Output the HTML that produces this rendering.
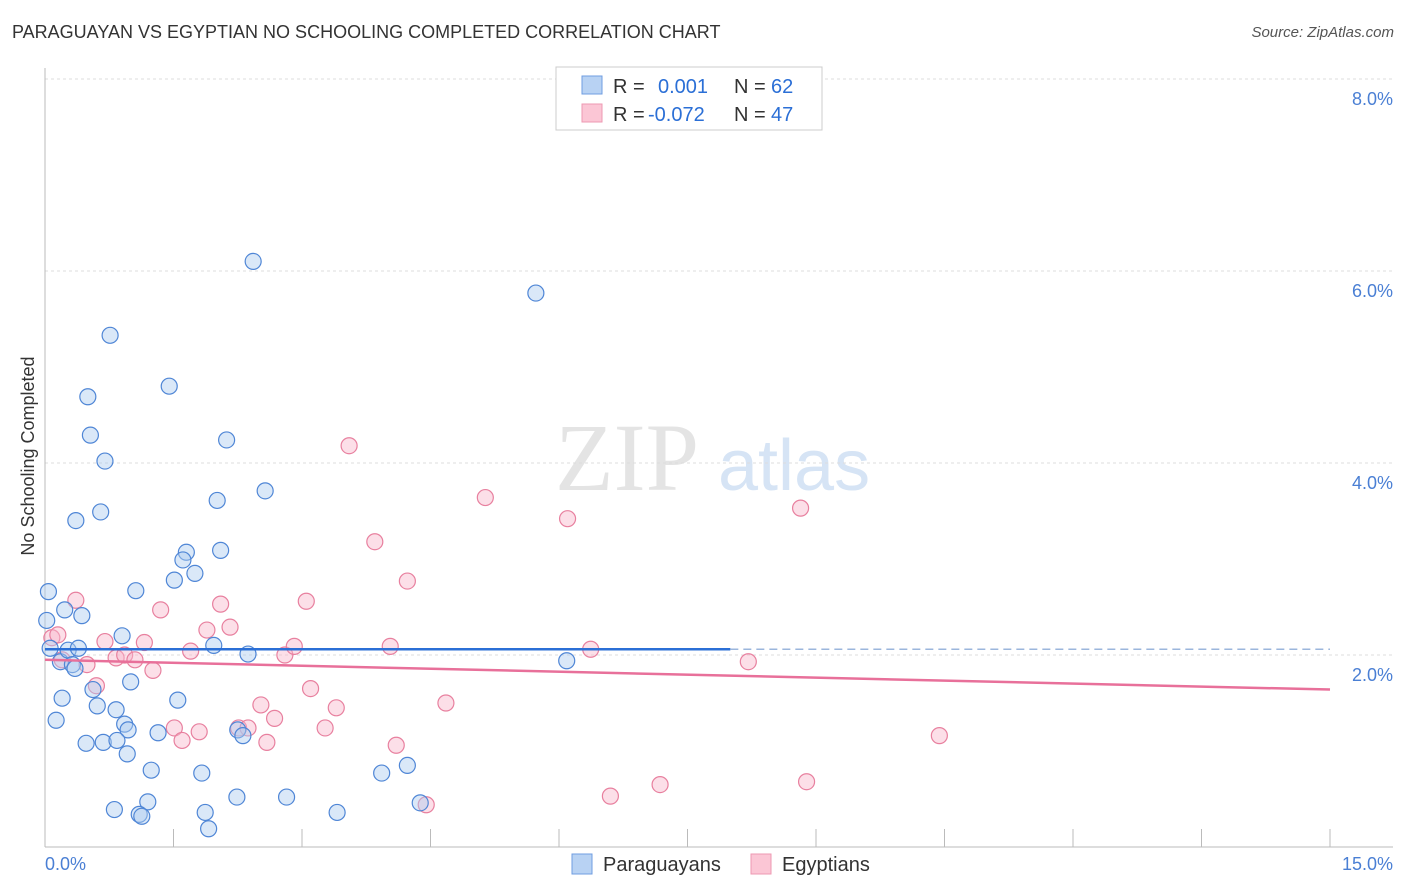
<!DOCTYPE html>
<html><head><meta charset="utf-8">
<style>
body{margin:0;background:#fff;font-family:"Liberation Sans",sans-serif;}
#wrap{position:relative;width:1406px;height:892px;overflow:hidden;}
.t{position:absolute;white-space:nowrap;}
</style></head>
<body>
<div id="wrap">
<div class="t" style="left:12px;top:22px;font-size:18px;color:#333;">PARAGUAYAN VS EGYPTIAN NO SCHOOLING COMPLETED CORRELATION CHART</div>
<div class="t" style="right:12px;top:24px;font-size:15px;color:#555;font-style:italic;">Source: ZipAtlas.com</div>
<svg id="svg" width="1406" height="892" style="position:absolute;left:0;top:0"></svg>
</div>
<script>
const blueX=[0.04,0.02,0.06,0.18,0.23,0.27,0.32,0.35,0.39,0.43,0.36,0.65,0.70,0.53,0.50,0.76,1.45,2.12,2.43,5.73,2.57,2.01,2.05,1.65,1.61,1.75,1.51,1.06,0.90,1.97,2.37,6.09,0.56,0.20,0.61,0.13,1.00,0.83,1.55,0.93,0.97,0.48,0.68,0.84,1.32,0.96,1.24,1.83,2.25,2.31,3.93,4.23,0.81,1.20,1.10,1.13,1.87,2.24,2.82,3.41,4.38,1.91];
const blueY=[2.66,2.36,2.07,1.93,2.47,2.05,1.90,1.86,2.07,2.41,3.40,3.49,4.02,4.29,4.69,5.33,4.80,4.24,6.10,5.77,3.71,3.61,3.09,3.07,2.99,2.85,2.78,2.67,2.20,2.10,2.01,1.94,1.64,1.55,1.47,1.32,1.72,1.43,1.53,1.28,1.22,1.08,1.09,1.11,1.19,0.97,0.80,0.77,1.22,1.16,0.77,0.85,0.39,0.47,0.34,0.32,0.36,0.52,0.52,0.36,0.46,0.19];
const pinkX=[0.08,0.15,0.20,0.36,0.49,0.60,0.70,0.83,0.93,1.05,1.16,1.26,1.35,1.51,1.60,1.70,1.80,1.89,2.05,2.16,2.26,2.37,2.52,2.59,2.68,2.80,2.91,3.05,3.10,3.27,3.40,3.55,3.85,4.03,4.10,4.23,4.68,4.45,5.14,6.10,6.37,6.60,7.18,8.21,8.82,8.89,10.44];
const pinkY=[2.18,2.21,1.95,2.57,1.90,1.68,2.14,1.97,2.00,1.95,2.13,1.84,2.47,1.24,1.11,2.04,1.20,2.26,2.53,2.29,1.24,1.24,1.48,1.09,1.34,2.00,2.09,2.56,1.65,1.24,1.45,4.18,3.18,2.09,1.06,2.77,1.50,0.44,3.64,3.42,2.06,0.53,0.65,1.93,3.53,0.68,1.16];
const yTicks=[2,4,6,8];
const yTickLabels=["2.0%","4.0%","6.0%","8.0%"];
const xTicks=[0,1.5,3,4.5,6,7.5,9,10.5,12,13.5,15];
const blueTrend=[2.06,2.06];
const pinkTrend=[1.95,1.64];

const X0=45,X1=1330,Y0=847,Y8=79;
const sx=v=>X0+(X1-X0)*v/15;
const sy=v=>Y0-(Y0-Y8)*v/8;
const svg=document.getElementById('svg');
const NS='http://www.w3.org/2000/svg';
function mk(tag,attrs,parent){const e=document.createElementNS(NS,tag);for(const k in attrs)e.setAttribute(k,attrs[k]);(parent||svg).appendChild(e);return e;}

// watermark
const wm=mk('text',{x:555,y:490,'font-size':96,'font-family':'Liberation Serif, serif',fill:'#e4e4e4'});wm.textContent='ZIP';
const wm2=mk('text',{x:718,y:490,'font-size':72,'font-family':'Liberation Sans, sans-serif',fill:'#d6e4f5'});wm2.textContent='atlas';

// grid
yTicks.forEach((t,i)=>{
  const g=mk('line',{x1:X0,x2:1393,y1:sy(t),y2:sy(t),stroke:'#ddd','stroke-dasharray':'3,3'});
  
  const l=mk('text',{x:1393,y:sy(t)+26,'text-anchor':'end','font-size':18,fill:'#4a7fd4'});l.textContent=yTickLabels[i];
  
});
mk('line',{x1:X0,x2:1393,y1:Y8,y2:Y8,stroke:'#ddd','stroke-dasharray':'3,3'});
// axes
mk('line',{x1:X0,x2:X0,y1:68,y2:Y0,stroke:'#bbb'});
mk('line',{x1:X0,x2:1393,y1:Y0,y2:Y0,stroke:'#bbb'});
xTicks.forEach(t=>{const e=mk('line',{x1:sx(t),x2:sx(t),y1:Y0,y2:Y0-18,stroke:'#bbb'});});
const xl0=mk('text',{x:45,y:870,'font-size':18,fill:'#4a7fd4'});xl0.textContent='0.0%';
const xl1=mk('text',{x:1393,y:870,'text-anchor':'end','font-size':18,fill:'#4a7fd4'});xl1.textContent='15.0%';
const yt=mk('text',{x:34,y:456,'font-size':18,fill:'#333',transform:'rotate(-90 34 456)','text-anchor':'middle'});yt.textContent='No Schooling Completed';


// points
function pts(xs,ys,fill,stroke,name){
  xs.forEach((x,i)=>{const c=mk('circle',{cx:sx(x),cy:sy(ys[i]),r:8,fill:fill,'fill-opacity':0.45,stroke:stroke,'stroke-width':1.2});
  });
}
pts(pinkX,pinkY,'#f9b8cb','#e8809f','egyptian-point');
pts(blueX,blueY,'#aecbf0','#4f86d6','paraguayan-point');

// trends
mk('line',{x1:sx(0),x2:sx(8),y1:sy(blueTrend[0]),y2:sy(blueTrend[0]+(blueTrend[1]-blueTrend[0])*8/15),stroke:'#2b6fd6','stroke-width':2.5});
mk('line',{x1:sx(8),x2:sx(15),y1:sy(blueTrend[0]+(blueTrend[1]-blueTrend[0])*8/15),y2:sy(blueTrend[1]),stroke:'#9bb6dc','stroke-width':1.5,'stroke-dasharray':'8,5'});
mk('line',{x1:sx(0),x2:sx(15),y1:sy(pinkTrend[0]),y2:sy(pinkTrend[1]),stroke:'#e8709a','stroke-width':2.5});

// legend top
const lg=mk('g',{});
mk('rect',{x:556,y:67,width:266,height:63,fill:'#fff',stroke:'#ccc'},lg);
mk('rect',{x:582,y:76,width:20,height:18,fill:'#b8d2f3',stroke:'#6f9de0'},lg);
mk('rect',{x:582,y:104,width:20,height:18,fill:'#fbc6d5',stroke:'#ee98b2'},lg);
function tx(x,y,s,c,p){const e=mk('text',{x:x,y:y,'font-size':20,fill:c},p);e.textContent=s;return e;}
tx(613,93,'R =','#333',lg);tx(658,93,'0.001','#2b6fd6',lg);tx(734,93,'N =','#333',lg);tx(771,93,'62','#2b6fd6',lg);
tx(613,121,'R =','#333',lg);tx(648,121,'-0.072','#2b6fd6',lg);tx(734,121,'N =','#333',lg);tx(771,121,'47','#2b6fd6',lg);

// bottom legend
const bl=mk('g',{});
mk('rect',{x:572,y:854,width:20,height:20,fill:'#b8d2f3',stroke:'#6f9de0'},bl);
tx(603,871,'Paraguayans','#333',bl);
mk('rect',{x:751,y:854,width:20,height:20,fill:'#fbc6d5',stroke:'#ee98b2'},bl);
tx(782,871,'Egyptians','#333',bl);
</script>
</body></html>
